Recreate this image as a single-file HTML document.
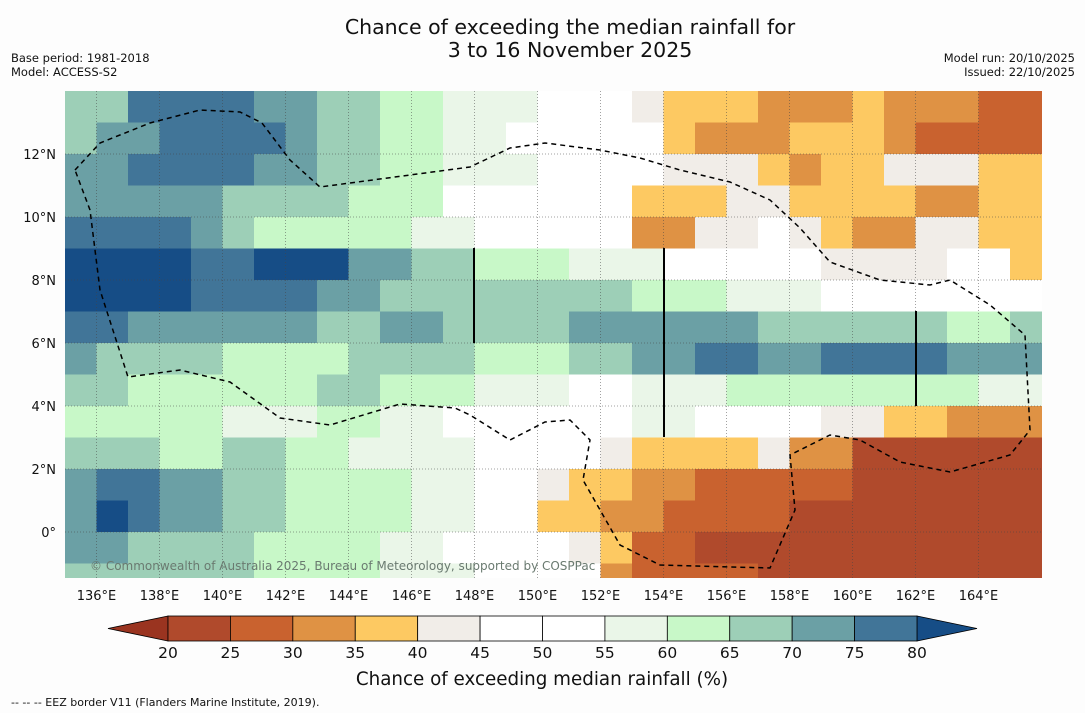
<!DOCTYPE html>
<html><head><meta charset="utf-8">
<style>
body{margin:0;background:#fdfdfd;font-family:"DejaVu Sans","Liberation Sans",sans-serif;}
#wrap{position:relative;width:1085px;height:713px;overflow:hidden;background:#fdfdfd;}
</style></head>
<body>
<div id="wrap">
<svg id="chart" width="1085" height="713" xmlns="http://www.w3.org/2000/svg" font-family="DejaVu Sans, Liberation Sans, sans-serif">
<text x="570" y="34" text-anchor="middle" font-size="20.5" fill="#111">Chance of exceeding the median rainfall for</text>
<text x="570" y="57" text-anchor="middle" font-size="20.5" fill="#111">3 to 16 November 2025</text>
<text x="11" y="62" font-size="11.5" fill="#111">Base period: 1981-2018</text>
<text x="11" y="76" font-size="11.5" fill="#111">Model: ACCESS-S2</text>
<text x="1075" y="62" font-size="11.5" fill="#111" text-anchor="end">Model run: 20/10/2025</text>
<text x="1075" y="76" font-size="11.5" fill="#111" text-anchor="end">Issued: 22/10/2025</text>
<g id="cells"></g>
<g id="grid"></g>
<path d="M75,170 L100,143 L150,123 L200,110 L240,112 L262,123 L290,160 L320,187 L470,167 L510,148 L545,143 L600,150 L640,158 L680,170 L730,182 L770,200 L800,228 L830,262 L880,280 L930,285 L950,280 L990,305 L1025,335 L1030,430 L1010,455 L950,472 L900,462 L860,440 L830,435 L790,455 L795,510 L770,568 L660,565 L620,545 L583,480 L590,440 L570,420 L545,422 L510,440 L470,415 L455,408 L400,404 L330,425 L280,418 L230,382 L180,370 L128,377 L100,290 L90,210 Z" fill="none" stroke="#000" stroke-width="1.5" stroke-dasharray="5,4"/>
<line x1="474" y1="248" x2="474" y2="343" stroke="#000" stroke-width="2"/>
<line x1="664" y1="248" x2="664" y2="437" stroke="#000" stroke-width="2"/>
<line x1="916" y1="311" x2="916" y2="406" stroke="#000" stroke-width="2"/>
<text x="90" y="570" font-size="12" fill="#6a7a70">© Commonwealth of Australia 2025, Bureau of Meteorology, supported by COSPPac</text>
<g id="axes"></g>
<g id="cbar"></g>
<text x="542" y="685" text-anchor="middle" font-size="18.3" fill="#111">Chance of exceeding median rainfall (%)</text>
<text x="11" y="706" font-size="11" fill="#111">--  --  -- EEZ border V11 (Flanders Marine Institute, 2019).</text>
</svg>
</div>
<script>
const lonTicks=[136,138,140,142,144,146,148,150,152,154,156,158,160,162,164];
const latTicks=[0,2,4,6,8,10,12];
const cbarLevels=[20,25,30,35,40,45,50,55,60,65,70,75,80];
const cbarColors=["#b04a2c","#c9622f","#df9244","#fdc962","#f1ede8","#ffffff","#ffffff","#eaf6e8","#c8f8c8","#9dcfb7","#6ba0a5","#417598"];
const underColor="#9a3420";
const overColor="#164d86";
const lonStart=135;
const latTop=14;
const rows=[
[67,67,77,77,77,77,72,72,68,68,62,62,58,58,58,52,52,47,42,37,37,37,32,32,32,37,32,32,32,28,28],
[67,72,72,77,77,77,77,72,67,67,62,62,58,58,52,52,52,47,47,37,32,32,32,37,37,37,32,28,28,28,28],
[72,72,77,77,77,77,72,72,67,67,62,62,57,57,57,52,52,52,47,42,42,42,37,32,37,37,42,42,42,37,37],
[72,72,72,72,72,67,67,65,65,62,62,62,52,52,52,50,50,45,37,37,37,42,42,37,37,37,37,32,32,37,37],
[77,77,77,77,72,67,62,62,62,62,62,57,57,52,52,52,52,47,32,32,42,42,47,42,37,32,32,42,42,37,37],
[82,82,82,82,77,77,82,82,82,72,72,67,67,62,62,62,57,57,57,52,52,52,47,47,42,42,42,42,47,47,37],
[82,82,82,82,77,77,77,77,72,72,67,67,67,67,67,67,67,67,62,62,62,57,57,57,52,52,52,52,52,47,47],
[77,77,72,72,72,72,72,72,67,67,72,72,67,67,67,67,72,72,72,72,72,72,67,67,67,67,67,67,62,62,67],
[72,67,67,67,67,62,62,62,62,67,67,67,67,62,62,62,67,67,72,72,77,77,72,72,77,77,77,77,72,72,72],
[67,67,62,62,62,62,62,62,67,67,62,62,62,57,57,57,52,52,57,57,57,62,62,62,62,62,62,62,62,57,57],
[62,62,62,62,62,57,57,57,62,62,57,57,52,52,52,52,52,52,57,57,52,52,47,47,42,42,37,37,32,32,32],
[67,67,67,62,62,67,67,62,62,57,57,57,57,52,52,47,47,42,37,37,37,37,42,32,32,22,22,22,22,22,22],
[72,77,77,72,72,67,67,62,62,62,62,57,57,47,47,42,37,37,32,32,27,27,27,27,27,22,22,22,22,22,22],
[72,82,77,72,72,67,67,62,62,62,62,57,57,47,47,37,37,32,32,27,27,27,27,22,22,22,22,22,22,22,22],
[72,72,67,67,67,67,62,62,62,62,57,57,52,52,45,45,42,37,27,27,22,22,22,22,22,22,22,22,22,22,22],
[67,67,67,67,67,67,62,62,62,62,57,57,57,52,52,45,45,32,27,27,27,27,22,22,22,22,22,22,22,22,22]
];
const NS="http://www.w3.org/2000/svg";
const X0=65,X1=1042,Y0=91,Y1=578,PPD=31.5;
const xLon=l=>X0+(l-lonStart)*PPD;
const yLat=l=>Y0+(latTop-l)*PPD;
function colorFor(v){
  if(v<cbarLevels[0])return underColor;
  if(v>=cbarLevels[cbarLevels.length-1])return overColor;
  for(let i=0;i<cbarLevels.length-1;i++){if(v>=cbarLevels[i]&&v<cbarLevels[i+1])return cbarColors[i];}
  return overColor;
}
function mk(t,a){const e=document.createElementNS(NS,t);for(const k in a)e.setAttribute(k,a[k]);return e;}
const cells=document.getElementById('cells');
const clip=mk('clipPath',{id:'mapclip'});clip.appendChild(mk('rect',{x:X0,y:Y0,width:X1-X0,height:Y1-Y0}));
document.getElementById('chart').insertBefore(clip,cells);
cells.setAttribute('clip-path','url(#mapclip)');
rows.forEach((row,r)=>{row.forEach((v,c)=>{
  const x=xLon(lonStart+c),y=yLat(latTop-r);
  const rc=mk('rect',{x:x,y:y,width:PPD+0.6,height:PPD+0.6,fill:colorFor(v)});
  
  
  cells.appendChild(rc);
});});
const grid=document.getElementById('grid');
const axes=document.getElementById('axes');
lonTicks.forEach(l=>{
  const x=xLon(l);
  const gl=mk('line',{x1:x,y1:Y0,x2:x,y2:Y1,stroke:'#444','stroke-width':0.5,'stroke-dasharray':'1,2'});
  
  
  grid.appendChild(gl);
  const t=mk('text',{x:x,y:600,'text-anchor':'middle','font-size':13,fill:'#111'});t.textContent=l+'°E';
  
  
  axes.appendChild(t);
});
latTicks.forEach(l=>{
  const y=yLat(l);
  const gl=mk('line',{x1:X0,y1:y,x2:X1,y2:y,stroke:'#444','stroke-width':0.5,'stroke-dasharray':'1,2'});
  
  
  grid.appendChild(gl);
  const t=mk('text',{x:56,y:y+5,'text-anchor':'end','font-size':13,fill:'#111'});t.textContent=l===0?'0°':l+'°N';
  
  
  axes.appendChild(t);
});
const cbar=document.getElementById('cbar');
const CB0=168,CB1=917,CBY=616,CBH=25;
const step=(CB1-CB0)/(cbarLevels.length-1);
const tl=mk('polygon',{points:`${CB0},${CBY} 108,${CBY+CBH/2} ${CB0},${CBY+CBH}`,fill:underColor,stroke:'#000','stroke-width':0.8});


cbar.appendChild(tl);
const tr=mk('polygon',{points:`${CB1},${CBY} 977,${CBY+CBH/2} ${CB1},${CBY+CBH}`,fill:overColor,stroke:'#000','stroke-width':0.8});


cbar.appendChild(tr);
cbarColors.forEach((c,i)=>{
  const r=mk('rect',{x:CB0+i*step,y:CBY,width:step,height:CBH,fill:c,stroke:'#000','stroke-width':0.8});
  
  
  cbar.appendChild(r);
});
cbarLevels.forEach((v,i)=>{
  const t=mk('text',{x:CB0+i*step,y:658,'text-anchor':'middle','font-size':15.5,fill:'#111'});t.textContent=v;
  
  
  cbar.appendChild(t);
});
</script>
</body></html>
